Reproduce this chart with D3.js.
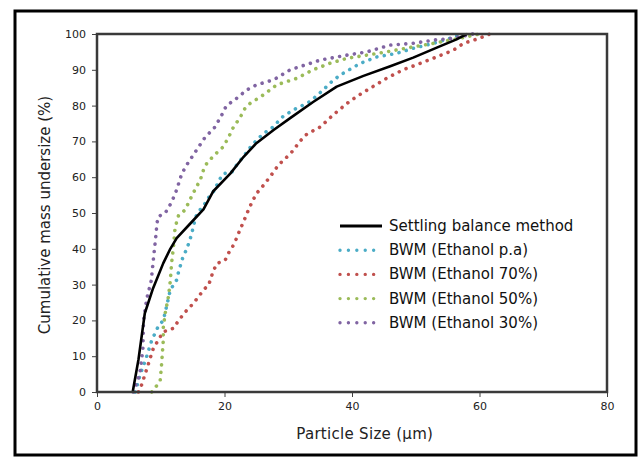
<!DOCTYPE html>
<html><head><meta charset="utf-8">
<script src="https://d3js.org/d3.v7.min.js"></script>
<style>body{margin:0;background:#fff}svg{display:block}</style>
</head><body>
<script>
const xTicks = [0, 20, 40, 60, 80];
const yTicks = [0, 10, 20, 30, 40, 50, 60, 70, 80, 90, 100];
const seriesNames = ["Settling balance method", "BWM (Ethanol p.a)", "BWM (Ethanol 70%)", "BWM (Ethanol 50%)", "BWM (Ethanol 30%)"];
const settling = [[5.6,0],[6.5,9],[7.5,22],[8.8,29],[10.4,36],[11.5,40],[12.5,43],[14.6,47],[16.7,51],[18.2,56],[20.9,61],[23,65.7],[25,69.5],[27.7,73.2],[30.3,76.5],[33.9,81],[37.6,85.3],[41.8,88.3],[46,91],[49.6,93.4],[53.3,96.2],[56.4,98.5],[58,100]];
const ethanolPA = [[6,0],[6.8,5],[7.8,10],[8.6,14.5],[9.6,18.3],[10.4,20],[10.9,23.8],[11.5,28.5],[12.5,31.3],[12.8,33.6],[13.5,37.8],[14.1,40],[14.8,43.8],[15.1,46.1],[15.5,49],[16.4,51.5],[17.2,53.2],[17.7,55],[18.5,56.4],[19,58.7],[19.8,61],[21.1,61.3],[21.9,63.4],[22.7,65.2],[23.5,67],[24.3,69],[26.1,72.2],[27.4,73.7],[29.2,77],[30.8,78.8],[33.4,81.1],[35.5,84.4],[36.5,86.2],[38.1,88.5],[41.3,91.8],[43.9,93.6],[47,94.6],[49.6,96],[52.8,97.4],[55.4,98.8],[57.5,100]];
const ethanol70 = [[6.5,0],[7,2],[8,7.5],[8.8,12],[9.6,14.5],[10.4,16.8],[12,17.8],[12.8,20],[14.1,22.9],[15.1,24.7],[15.9,26.6],[16.9,28.9],[17.5,29.8],[18.2,33.6],[18.8,35.9],[20.1,36.8],[20.6,38.7],[21.4,41],[21.9,43],[22.4,45.2],[23,47.6],[23.5,49.8],[24.3,53],[25,55.4],[26,57.5],[27.1,60],[28.5,63.5],[29.7,65.5],[30.8,67.5],[31.8,70],[32.9,72],[35,74],[37.1,77.5],[39.2,80.6],[40.7,82.5],[42.8,84.8],[45.4,87.6],[48,90],[50.7,91.8],[53.3,93.6],[55.9,95.5],[57.5,97.4],[60,98.8],[61.6,100]];
const ethanol50 = [[8.6,0],[9.9,3],[10.1,7],[10.4,14.5],[10.4,18],[10.7,22],[11.2,26.6],[11.5,31],[11.7,36],[12,40.6],[12.2,45],[12.5,47.6],[12.8,49.4],[13.8,50.8],[14.8,54.5],[15.6,57.3],[16.2,59.2],[16.7,62],[17.2,63.8],[18.3,66],[19.8,68.5],[20.6,71],[21.4,74],[22.4,76.5],[23.2,79.2],[24,80.6],[26.1,83],[28.2,85.8],[31.3,87.6],[33.9,90],[36.5,91.8],[39.2,93.2],[42.3,94.1],[45.4,95],[49.6,96.4],[52.8,97.4],[56.9,98.8],[60,100]];
const ethanol30 = [[5.7,0],[6.7,5],[7.2,12],[7.3,20],[7.8,26],[8.5,31],[8.9,38],[9.2,43],[9.4,47],[9.6,49],[10.7,50],[11.7,53],[12.5,56.5],[13.3,61],[14.1,63.5],[15.4,67],[16.9,71],[18.5,74],[19.6,77.5],[20.3,80],[21.6,81.6],[23.5,84.4],[25,85.8],[27.7,87.2],[30.3,90],[35,92.7],[39.2,94.1],[42.3,95],[46,96.9],[49.6,97.4],[52.8,98.3],[55.9,98.8],[59,100]];
const seriesData = [settling, ethanolPA, ethanol70, ethanol50, ethanol30];
const colors = ["#000000", "#4bacc6", "#c0504d", "#9bbb59", "#8064a2"];

const W = 642, H = 460;
const m = {left: 97, top: 34, right: 607, bottom: 392};
const svg = d3.select("body").append("svg").attr("width", W).attr("height", H);
const font = "DejaVu Sans, Verdana, sans-serif";

svg.append("rect").attr("x", 15).attr("y", 11).attr("width", 621).attr("height", 444)
  .attr("fill", "#fff").attr("stroke", "#000").attr("stroke-width", 3);

const x = d3.scaleLinear().domain([0, 80]).range([m.left, m.right]);
const y = d3.scaleLinear().domain([0, 100]).range([m.bottom, m.top]);

const xAxis = svg.append("g").attr("transform", `translate(0,${m.bottom})`)
  .call(d3.axisBottom(x).tickValues(xTicks).tickSize(5).tickPadding(5));
const yAxis = svg.append("g").attr("transform", `translate(${m.left},0)`)
  .call(d3.axisLeft(y).tickValues(yTicks).tickSize(5).tickPadding(6));
[xAxis, yAxis].forEach(g => {
  g.select(".domain").remove();
  g.selectAll(".tick line").attr("stroke", "#404040").attr("stroke-width", 1);
  g.selectAll(".tick text").attr("font-family", font).attr("font-size", 11).attr("fill", "#222");
});

const line = d3.line().x(d => x(d[0])).y(d => y(d[1]));
const order = [2, 1, 3, 4, 0];
order.forEach(i => {
  const p = svg.append("path").datum(seriesData[i]).attr("d", line)
    .attr("fill", "none").attr("stroke", colors[i]);
  if (i === 0) p.attr("stroke-width", 2.6).attr("stroke-linejoin", "round");
  else p.attr("stroke-width", 3.6).attr("stroke-linecap", "round").attr("stroke-dasharray", "0.01 7.5");
});

svg.append("rect").attr("x", m.left).attr("y", m.top).attr("width", m.right - m.left).attr("height", m.bottom - m.top)
  .attr("fill", "none").attr("stroke", "#3a3a3a").attr("stroke-width", 2.5);

svg.append("text").attr("x", x(42)).attr("y", 439).attr("text-anchor", "middle")
  .attr("font-family", font).attr("font-size", 15).attr("letter-spacing", 0.3).attr("fill", "#222").text("Particle Size (µm)");
svg.append("text").attr("transform", `translate(50,${y(50) + 2}) rotate(-90)`).attr("text-anchor", "middle")
  .attr("font-family", font).attr("font-size", 15).attr("fill", "#222").text("Cumulative mass undersize (%)");

const leg = svg.append("g");
seriesNames.forEach((name, i) => {
  const yy = 226 + i * 24.2;
  const s = leg.append("line").attr("x1", 340).attr("x2", 382).attr("y1", yy).attr("y2", yy).attr("stroke", colors[i]);
  if (i === 0) s.attr("stroke-width", 3);
  else s.attr("stroke-width", 3.4).attr("stroke-linecap", "round").attr("stroke-dasharray", "0.01 8.4");
  leg.append("text").attr("x", 389).attr("y", yy + 5).attr("font-family", font).attr("font-size", 15)
    .attr("fill", "#111").text(name);
});
</script>
</body></html>
